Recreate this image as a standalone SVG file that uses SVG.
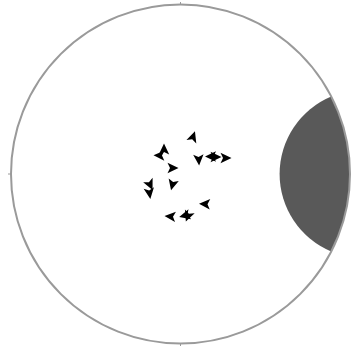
<svg xmlns="http://www.w3.org/2000/svg" xmlns:xlink="http://www.w3.org/1999/xlink" width="352" height="348" viewBox="0 0 352 348">
  <style>
    .boid { fill: #000000; stroke: none; }
    .ring { fill: none; stroke: #9a9a9a; stroke-width: 2; }
    .tick { stroke: #9a9a9a; stroke-width: 1; }
    .obstacle { fill: #595959; stroke: none; }
  </style>
  <defs>
    <path id="b" class="boid" d="M6,0 L-5,-5.2 L-2.5,0 L-5,5.2 Z"/>
  </defs>
  <rect x="0" y="0" width="352" height="348" fill="#ffffff"/>
  <g id="obstacle">
    <path class="obstacle" d="M331.2,96.5 A84,84 0 0,0 331.2,251.5 A169.5,169.5 0 0,0 331.2,96.5 Z"/>
  </g>
  <g id="arena">
    <circle class="ring" cx="180.5" cy="174" r="169.5"/>
    <line class="tick" x1="180.5" y1="2" x2="180.5" y2="4"/>
    <line class="tick" x1="8" y1="174" x2="10" y2="174"/>
    <line class="tick" x1="180.5" y1="344" x2="180.5" y2="346"/>
  </g>
  <g id="boids">
    <use xlink:href="#b" href="#b" transform="translate(193,137) rotate(-71)"/>
    <use xlink:href="#b" href="#b" transform="translate(159.5,155.5) rotate(182)"/>
    <use xlink:href="#b" href="#b" transform="translate(164,149.5) rotate(-90)"/>
    <use xlink:href="#b" href="#b" transform="translate(172.5,168) rotate(0)"/>
    <use xlink:href="#b" href="#b" transform="translate(172.5,184.5) rotate(104)"/>
    <use xlink:href="#b" href="#b" transform="translate(198.7,159.5) rotate(86)"/>
    <use xlink:href="#b" href="#b" transform="translate(211,156.5) rotate(180)"/>
    <use xlink:href="#b" href="#b" transform="translate(215.5,157) rotate(0)"/>
    <use xlink:href="#b" href="#b" transform="translate(225.5,158) rotate(0)"/>
    <use xlink:href="#b" href="#b" transform="translate(150,184.5) rotate(65)"/>
    <use xlink:href="#b" href="#b" transform="translate(149.5,193) rotate(82)"/>
    <use xlink:href="#b" href="#b" transform="translate(205,204) rotate(183)"/>
    <use xlink:href="#b" href="#b" transform="translate(170.5,216.5) rotate(185)"/>
    <use xlink:href="#b" href="#b" transform="translate(185,215.5) rotate(165)"/>
    <use xlink:href="#b" href="#b" transform="translate(188,216) rotate(111)"/>
  </g>
</svg>
